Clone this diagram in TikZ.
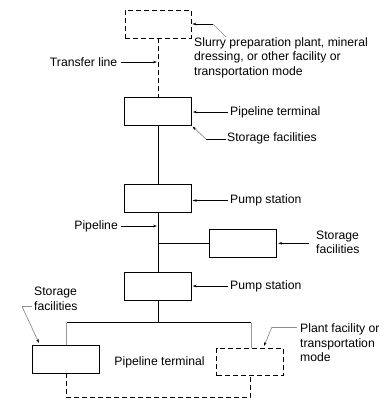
\documentclass[tikz,border=0pt]{standalone}
\usepackage{fontspec}
\setmainfont{Liberation Sans}
\usetikzlibrary{arrows.meta}
\begin{document}
\begin{tikzpicture}[x=1pt,y=-1pt,
  every node/.style={font=\fontsize{12.2}{14.5}\selectfont},
  box/.style={draw,line width=0.9pt,minimum width=67pt,minimum height=28pt,inner sep=0pt},
  dbox/.style={box,dash pattern=on 5pt off 3pt},
  wire/.style={line width=0.9pt},
  dwire/.style={line width=0.9pt,dash pattern=on 5pt off 3pt},
  gwire/.style={line width=0.9pt,draw=black!40},
  lbl/.style={inner sep=1pt,align=left},
  arr/.style={line width=0.7pt,-{Stealth[length=4pt,width=2.6pt,color=black]}},
  garr/.style={arr,draw=black!45},
  glead/.style={line width=0.7pt,draw=black!45},
  blead/.style={line width=0.7pt}
]
\useasboundingbox (0,0) rectangle (390,402);

% boxes
\node[dbox,minimum width=66pt] (top) at (158,24) {};
\node[box] (pt) at (158,111.5) {};
\node[box,minimum width=66.5pt] (p1) at (158,198) {};
\node[box,minimum width=67.5pt] (sr) at (243,243.3) {};
\node[box,minimum width=66.5pt] (p2) at (158,286) {};
\node[box] (ls) at (66,359) {};
\node[dbox,minimum width=66.7pt,minimum height=27.4pt] (rd) at (250,362) {};

% pipeline connectors
\draw[dwire] (top.south) -- (pt.north);
\draw[wire] (pt.south) -- (p1.north);
\draw[wire] (p1.south) -- (p2.north);
\coordinate (br) at (158,243.3);
\draw[wire] (br) -- (sr.west);
\coordinate (j) at (158,322.7);
\coordinate (jl) at (66.7,322.7);
\coordinate (jr) at (251,322.7);
\draw[wire] (p2.south) -- (j);
\draw[wire] (jl) -- (jr);
\draw[gwire] (jl) -- (jl |- ls.north);
\draw[gwire] (jr) -- (jr |- rd.north);
\coordinate (bot) at (158,397.7);
\draw[dwire] (ls.south) -- (ls.south |- bot) -| (rd.south);

% labels
\node[lbl,anchor=west] (slurry) at (193,57.5) {Slurry preparation plant, mineral\\dressing, or other facility or\\transportation mode};
\node[lbl,anchor=east] (tl) at (118.5,62) {Transfer line};
\node[lbl,anchor=west] (ptl) at (229,112) {Pipeline terminal};
\node[lbl,anchor=west] (sf1) at (226,138.5) {Storage facilities};
\node[lbl,anchor=west] (ps1) at (229,200.5) {Pump station};
\node[lbl,anchor=east] (pl) at (119,226) {Pipeline};
\node[lbl,anchor=west] (sf2) at (315,242.5) {Storage\\facilities};
\node[lbl,anchor=west] (ps2) at (229,286) {Pump station};
\node[lbl,anchor=west] (sf3) at (33,299) {Storage\\facilities};
\node[lbl,anchor=west] (pf) at (299,343) {Plant facility or\\transportation\\mode};
\node[lbl] (ptb) at (159.5,362) {Pipeline terminal};

% leaders
\coordinate (s1) at (226,37);
\coordinate (s2) at (213,24);
\draw[glead] (s1) -- (s2);
\draw[arr,shorten >=1pt] (s2) -- (top.east |- s2);

\draw[arr,shorten <=2pt,shorten >=1pt] (tl.east) -- (top.south |- tl.east);
\draw[arr,shorten <=1pt,shorten >=1pt] (ptl.west) -- (pt.east |- ptl.west);

\coordinate (u1) at (206,139);
\draw[blead] (sf1.west |- u1) -- (u1);
\draw[garr] (u1) -- (192.5,126.5);

\draw[arr,shorten <=1pt,shorten >=1pt] (ps1.west) -- (p1.east |- ps1.west);
\draw[arr,shorten <=2pt,shorten >=1pt] (pl.east) -- (p1.south |- pl.east);
\draw[arr,shorten <=3pt,shorten >=1pt] (312,243.3) -- (sr.east);
\draw[arr,shorten <=1pt,shorten >=1pt] (ps2.west) -- (p2.east |- ps2.west);

\coordinate (l1) at (22,306.5);
\draw[glead] (32,306.5) -- (l1);
\draw[garr] (l1) -- (39,343);

\coordinate (r1) at (272,327);
\draw[glead] (297,327) -- (r1);
\draw[garr] (r1) -- (264,346);
\end{tikzpicture}
\end{document}
